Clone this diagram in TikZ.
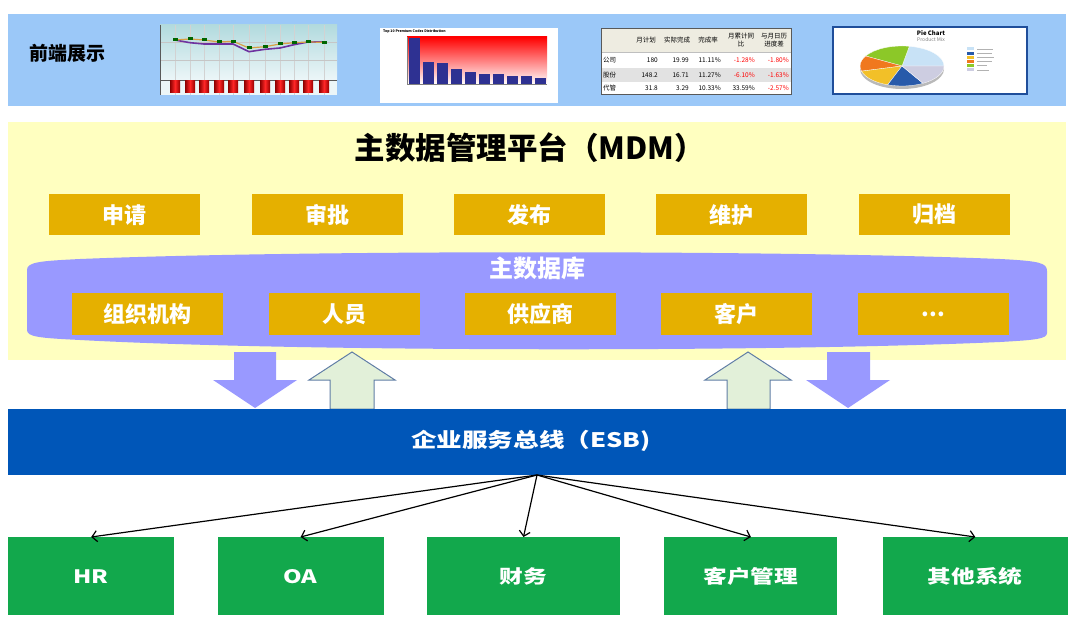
\documentclass[tikz,border=0pt]{standalone}
\usepackage{fontspec}
\setmainfont{Noto Sans CJK SC}
\newfontfamily\widefont{Noto Sans CJK SC}[FakeStretch=1.28]
\usepackage{tikz}
\usetikzlibrary{arrows.meta, positioning}
\definecolor{frontblue}{RGB}{155,200,248}
\definecolor{mdmyellow}{RGB}{255,255,192}
\definecolor{opgold}{RGB}{229,176,0}
\definecolor{dbpurple}{RGB}{153,153,255}
\definecolor{esbblue}{RGB}{0,86,184}
\definecolor{sysgreen}{RGB}{18,168,76}
\definecolor{upfill}{RGB}{226,240,217}
\definecolor{upedge}{RGB}{96,125,165}
\definecolor{barnavy}{RGB}{46,49,146}
\definecolor{pieframe}{RGB}{31,78,154}
\definecolor{lineorange}{RGB}{215,160,70}
\definecolor{linepurple}{RGB}{110,50,160}
\definecolor{charttop}{RGB}{178,218,222}
\definecolor{chartbot}{RGB}{236,246,248}
\definecolor{hdrbeige}{RGB}{238,236,225}
\definecolor{rowgrey}{RGB}{226,226,226}
\definecolor{pieA}{RGB}{200,226,246}
\definecolor{pieB}{RGB}{140,200,40}
\definecolor{pieC}{RGB}{240,120,30}
\definecolor{pieD}{RGB}{242,192,40}
\definecolor{pieE}{RGB}{40,90,170}
\definecolor{pieF}{RGB}{205,205,225}
\tikzset{
    panel/.style={inner sep=0pt, outer sep=0pt, anchor=north west},
    opbox/.style={fill=opgold, text=white, font=\fontsize{22}{22}\selectfont\bfseries, minimum width=151pt, minimum height=41pt, inner sep=0pt},
    databox/.style={opbox, minimum height=42pt},
    sysbox/.style={fill=sysgreen, text=white, font=\widefont\fontsize{18.5}{18.5}\selectfont\bfseries, minimum height=78pt, inner sep=0pt},
    arr/.style={-{Straight Barb[length=5pt,width=11pt]}, line width=1.2pt, draw=black},
    downarr/.style={fill=dbpurple},
    uparr/.style={fill=upfill, draw=upedge, line width=1pt, line join=miter},
    tiny/.style={font=\fontsize{6.5}{7.5}\selectfont, inner sep=0pt}
}

\begin{document}
\begin{tikzpicture}[x=1pt, y=-1pt]
    \useasboundingbox (0,0) rectangle (1075,628);

    % front-end display strip
    \node[panel, fill=frontblue, minimum width=1058pt, minimum height=92pt] (front) at (8,14) {};
    \node[font=\fontsize{19}{19}\selectfont\bfseries] (fronttitle) at (67,53) {前端展示};

    % line chart
    \shade[top color=charttop, bottom color=chartbot] (160,25) rectangle (337,80);
    \fill[chartbot] (160,80) rectangle (337,95);
    \foreach \x in {175,190,204,219,233,249,265,280,294,308,324}
        \draw[gray!35, line width=0.4pt] (\x,25) -- (\x,95);
    \draw[gray!45, line width=0.4pt] (160,42) -- (337,42) (160,60) -- (337,60);
    \draw[gray!70!black, line width=0.6pt] (160,25) -- (160,95) (160,80) -- (337,80);
    \draw[linepurple, line width=1.6pt] plot coordinates {(175,40) (190,42.7) (204,44) (219,44) (233,44) (249,51.7) (265,49.3) (280,48) (294,44.7) (308,42) (324,42)};
    \draw[lineorange, line width=1.2pt] plot coordinates {(175,40) (190,39) (204,40) (219,42) (233,41.3) (249,48) (265,46.7) (280,44) (294,42.7) (308,42) (324,42.3)};
    \foreach \x/\y in {175/40,190/39,204/40,219/42,233/41.3,249/48,265/46.7,280/44,294/42.7,308/42,324/42.3}
        \fill[green!40!black] (\x-2.5,\y-1.5) rectangle (\x+2.5,\y+1.5);
    \foreach \x in {175,190,204,219,233,249,265,280,294,308,324}
        \shade[left color=red!55!black, right color=red!60!black, middle color=red!85] (\x-5,81) rectangle (\x+5,93);

    % bar chart
    \fill[white] (380,28) rectangle (558,103);
    \node[anchor=west, font=\fontsize{3.5}{4}\selectfont\bfseries, inner sep=0pt] (bartitle) at (383,31.5) {Top 10 Premium Codes Distribution};
    \shade[top color=red, bottom color=white] (407,37) rectangle (547,84);
    \foreach \i/\t in {0/38,1/62,2/63,3/69,4/72,5/74,6/74,7/76,8/76,9/78}
        \fill[barnavy] (408.5+14*\i,\t) rectangle (419.5+14*\i,84);
    \draw[gray, line width=0.4pt] (407,37) -- (407,84) -- (547,84);

    % table
    \fill[white] (601,28) rectangle (791,94);
    \fill[hdrbeige] (601,28) rectangle (791,52);
    \fill[rowgrey] (601,68) rectangle (791,82);
    \draw[gray!50, line width=0.4pt] (601,52) -- (791,52);
    \draw[gray!70!black, line width=0.7pt] (601,28) rectangle (791,94);
    \node[tiny] (hplan) at (646,40) {月计划};
    \node[tiny] (hdone) at (677,40) {实际完成};
    \node[tiny] (hrate) at (708,40) {完成率};
    \node[tiny, align=center] (hyoy) at (741,40) {月累计同\\比};
    \node[tiny, align=center] (hgap) at (774,40) {与月日历\\进度差};
    \foreach \y/\n/\a/\b/\c/\d/\dc/\e in {60/公司/180/19.99/11.11\%/-1.28\%/red/-1.80\%,
                                          75/股份/148.2/16.71/11.27\%/-6.10\%/red/-1.63\%,
                                          88/代管/31.8/3.29/10.33\%/33.59\%/black/-2.57\%}{
        \node[tiny, anchor=west] at (603,\y) {\n};
        \node[tiny, anchor=east] at (658,\y) {\a};
        \node[tiny, anchor=east] at (689,\y) {\b};
        \node[tiny, anchor=east] at (721,\y) {\c};
        \node[tiny, anchor=east, text=\dc] at (755,\y) {\d};
        \node[tiny, anchor=east, text=red] at (789,\y) {\e};
    }

    % pie chart
    \fill[white] (833,27) rectangle (1027,94);
    \draw[pieframe, line width=1.2pt] (833,27) rectangle (1027,94);
    \node[font=\fontsize{6}{6}\selectfont\bfseries, inner sep=0pt] (pietitle) at (931,33) {Pie Chart};
    \node[font=\fontsize{5}{5}\selectfont, text=gray, inner sep=0pt] (piesub) at (931,39.5) {Product Mix};
    \begin{scope}[shift={(902,66)}]
        \fill[gray!55] (0pt,-3pt) ellipse [x radius=42pt, y radius=20pt];
        \foreach \a/\b/\c in {0/80/pieA,80/150/pieB,150/195/pieC,195/250/pieD,250/300/pieE,300/360/pieF}
            \filldraw[fill=\c, draw=white, line width=0.3pt] (0pt,0pt) -- (\a:42pt and 20pt) arc[start angle=\a, end angle=\b, x radius=42pt, y radius=20pt] -- cycle;
    \end{scope}
    \foreach \i/\c/\w in {0/pieA/16,1/pieE/15,2/pieD/17,3/pieC/15,4/pieB/10,5/pieF/12}{
        \fill[\c] (967,47.5+4.2*\i) rectangle (974,50.5+4.2*\i);
        \draw[gray!60, line width=0.8pt] (977,49+4.2*\i) -- (977+\w,49+4.2*\i);
    }

    % MDM platform
    \node[panel, fill=mdmyellow, minimum width=1058pt, minimum height=238pt] (mdm) at (8,122) {};
    \node[font=\fontsize{30.5}{30.5}\selectfont\bfseries] (mdmtitle) at (530,148) {主数据管理平台（MDM）};

    \node[opbox, anchor=north west] (apply) at (49,194) {申请};
    \node[opbox, right=51pt of apply] (approve) {审批};
    \node[opbox, right=51pt of approve] (publish) {发布};
    \node[opbox, right=51pt of publish] (maintain) {维护};
    \node[opbox, right=51pt of maintain] (archive) {归档};

    % master database
    \fill[dbpurple] (27,270) .. controls (27,262) and (40,261) .. (80,259)
        .. controls (300,250) and (780,250) .. (1000,259)
        .. controls (1040,261) and (1047,263) .. (1047,271) -- (1047,333)
        .. controls (1047,339) and (1035,340) .. (1000,342)
        .. controls (780,352) and (300,352) .. (80,340)
        .. controls (40,338) and (27,337) .. (27,330) -- cycle;
    \node[font=\fontsize{24}{24}\selectfont\bfseries, text=white] (dbtitle) at (537,268) {主数据库};

    \node[databox, anchor=north west] (org) at (72,293) {组织机构};
    \node[databox, right=45pt of org] (staff) {人员};
    \node[databox, right=45pt of staff] (supplier) {供应商};
    \node[databox, right=45pt of supplier] (customer) {客户};
    \node[databox, right=45pt of customer] (more) {...};

    % exchange arrows
    \fill[downarr] (234,352) -- (276,352) -- (276,380) -- (297,380) -- (255,408) -- (213,380) -- (234,380) -- cycle;
    \filldraw[uparr] (352,352) -- (395,380) -- (374,380) -- (374,409) -- (330,409) -- (330,380) -- (309,380) -- cycle;
    \filldraw[uparr] (748,352) -- (791,380) -- (770,380) -- (770,409) -- (727,409) -- (727,380) -- (705,380) -- cycle;
    \fill[downarr] (827,352) -- (870,352) -- (870,380) -- (890,380) -- (848,408) -- (806,380) -- (827,380) -- cycle;

    % service bus
    \node[panel, fill=esbblue, minimum width=1058pt, minimum height=66pt] (esb) at (8,409) {};
    \node[font=\widefont\fontsize{20}{20}\selectfont\bfseries, text=white] (esbtitle) at (531,441) {企业服务总线（ESB)};

    % business systems
    \node[sysbox, anchor=north west, minimum width=166pt] (hr) at (8,537) {HR};
    \node[sysbox, right=43pt of hr, minimum width=166pt] (oa) {OA};
    \node[sysbox, right=43pt of oa, minimum width=193pt] (finance) {财务};
    \node[sysbox, right=44pt of finance, minimum width=173pt] (crm) {客户管理};
    \node[sysbox, right=45pt of crm, minimum width=185pt] (others) {其他系统};

    \draw[arr] (esb.south) -- (hr.north);
    \draw[arr] (esb.south) -- (oa.north);
    \draw[arr] (esb.south) -- (finance.north);
    \draw[arr] (esb.south) -- (crm.north);
    \draw[arr] (esb.south) -- (others.north);
\end{tikzpicture}
\end{document}
